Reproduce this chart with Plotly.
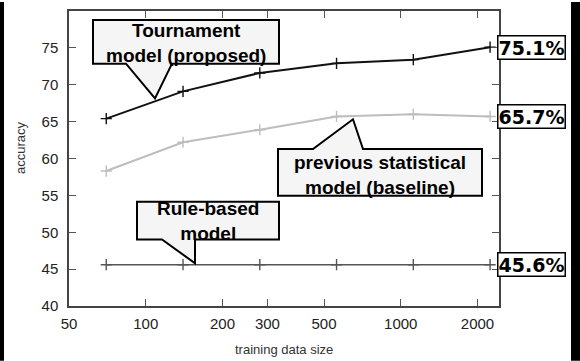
import math
import plotly.graph_objects as go

# ---- data ----
train_size = [70, 140, 280, 560, 1120, 2240]
tournament = [65.4, 69.1, 71.6, 72.9, 73.4, 75.1]
baseline = [58.3, 62.2, 63.9, 65.7, 66.0, 65.7]
rule_based = [45.6, 45.6, 45.6, 45.6, 45.6, 45.6]
x_ticks = [50, 100, 200, 300, 500, 1000, 2000]
y_ticks = [40, 45, 50, 55, 60, 65, 70, 75]

W, H = 580, 361
PL, PR, PT, PB = 69, 499, 9, 306


def px(x):
    return (x - PL) / (PR - PL)


def py(y):
    return (PB - y) / (PB - PT)


fig = go.Figure()
series = [
    (tournament, "#111111", 2),
    (baseline, "#bdbdbd", 2),
    (rule_based, "#555555", 1.6),
]
for vals, col, w in series:
    fig.add_trace(go.Scatter(
        x=train_size, y=vals, mode="lines+markers",
        line=dict(color=col, width=w),
        marker=dict(symbol="cross-thin", size=8, line=dict(color=col, width=1.4)),
        showlegend=False, hoverinfo="skip",
    ))

shapes = []


def callout(pts):
    d = "M " + " L ".join(f"{px(a):.5f},{py(b):.5f}" for a, b in pts) + " Z"
    shapes.append(dict(type="path", xref="paper", yref="paper", path=d,
                       fillcolor="#f5f5f5", line=dict(color="black", width=2)))


# Tournament callout (pointer down)
callout([(93, 18), (279, 18), (279, 62), (172, 62), (155, 97), (126, 62), (93, 62)])
# Baseline callout (pointer up)
callout([(278, 148), (313, 148), (353, 118), (363, 148), (482, 148), (482, 195), (278, 195)])
# Rule-based callout (pointer down)
callout([(137, 201), (279, 201), (279, 239), (195, 239), (195, 263), (162, 239), (137, 239)])

# outer black side bars
for x0, x1 in [(0, 4), (571, 580)]:
    shapes.append(dict(type="rect", xref="paper", yref="paper", layer="above",
                       x0=px(x0), x1=px(x1), y0=py(H), y1=py(0),
                       fillcolor="black", line=dict(width=0)))

annotations = []
cfont = dict(family="Liberation Sans, Arial, sans-serif", size=19, color="black")
for txt, cx, cy in [
    ("<b>Tournament<br>model (proposed)</b>", 186, 41),
    ("<b>previous statistical<br>model (baseline)</b>", 380, 174),
    ("<b>Rule-based<br>model</b>", 208, 220),
]:
    annotations.append(dict(text=txt, xref="paper", yref="paper", x=px(cx), y=py(cy),
                            xanchor="center", yanchor="middle", showarrow=False,
                            font=cfont, align="center"))

# end value labels
for vals in (tournament, baseline, rule_based):
    annotations.append(dict(
        text=f"<b>{vals[-1]:.1f}%</b>", xref="paper", yref="y", x=px(497), y=vals[-1],
        xanchor="left", yanchor="middle", showarrow=False,
        font=dict(family="DejaVu Sans, Verdana, sans-serif", size=19, color="black"),
        bgcolor="white", bordercolor="black", borderwidth=1.5, borderpad=0,
    ))

annotations.append(dict(text="training data size", xref="paper", yref="paper",
                        x=px(284), y=py(350), xanchor="center", yanchor="middle",
                        showarrow=False,
                        font=dict(family="Liberation Sans, Arial, sans-serif", size=13, color="#333")))
annotations.append(dict(text="accuracy", xref="paper", yref="paper", textangle=-90,
                        x=px(20), y=py(147), xanchor="center", yanchor="middle",
                        showarrow=False,
                        font=dict(family="Liberation Sans, Arial, sans-serif", size=13, color="#333")))

axis_common = dict(showgrid=False, zeroline=False, showline=True, linecolor="#444",
                   linewidth=1.5, mirror="ticks", ticks="inside", ticklen=7,
                   tickcolor="#555", tickwidth=1.3,
                   tickfont=dict(family="Liberation Sans, Arial, sans-serif", size=15, color="#222"))

fig.update_layout(
    width=W, height=H,
    margin=dict(l=PL, r=W - PR, t=PT, b=H - PB),
    paper_bgcolor="white", plot_bgcolor="white",
    xaxis=dict(type="log", range=[math.log10(50), math.log10(50) + (PR - PL) / 255.0],
               tickvals=x_ticks, ticktext=[str(v) for v in x_ticks],
               ticklabelstandoff=3, **axis_common),
    yaxis=dict(range=[40, 80], tickvals=y_ticks, ticktext=[str(v) for v in y_ticks],
               ticklabelstandoff=6, **axis_common),
    shapes=shapes, annotations=annotations,
)

fig.write_html(
    "out.html", config={"displayModeBar": False},
    post_script=(
        "document.documentElement.style.overflow='hidden';"
        "document.body.style.overflow='hidden';"
        "document.body.style.margin='0';document.body.style.padding='0';"
    ),
)
